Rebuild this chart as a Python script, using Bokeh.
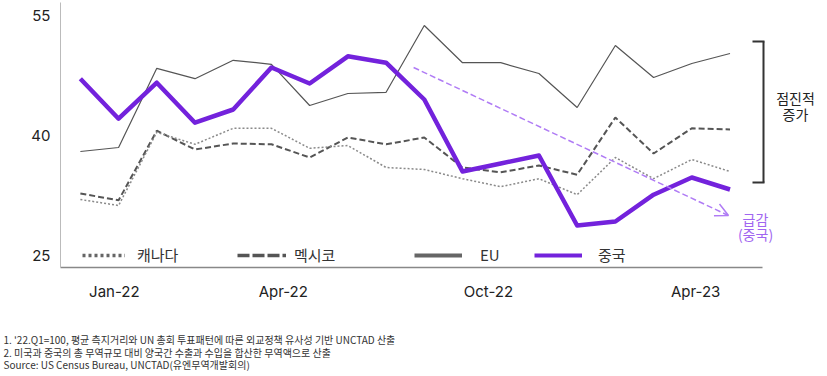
from bokeh.plotting import figure
from bokeh.models import (Range1d, FixedTicker, Legend, LegendItem, Label, Arrow, OpenHead)
from bokeh.embed import file_html
from bokeh.resources import INLINE

# ---- data ----
months = ["Jan-22", "Feb-22", "Mar-22", "Apr-22", "May-22", "Jun-22", "Jul-22", "Aug-22",
          "Sep-22", "Oct-22", "Nov-22", "Dec-22", "Jan-23", "Feb-23", "Mar-23", "Apr-23",
          "May-23", "Jun-23"]
canada = [32.0, 31.25, 40.4, 38.9, 40.9, 40.9, 38.4, 38.75, 36.0, 35.75, 34.6, 33.6,
          34.6, 32.6, 37.25, 34.6, 37.0, 35.5]
mexico = [32.75, 31.9, 40.6, 38.25, 39.0, 38.9, 37.25, 39.75, 38.9, 39.75, 36.0, 35.4,
          36.25, 35.1, 42.25, 37.75, 40.9, 40.75]
eu = [38.0, 38.5, 48.4, 47.1, 49.4, 48.9, 43.75, 45.25, 45.4, 53.75, 49.1, 49.1,
      47.75, 43.5, 51.25, 47.25, 49.0, 50.25]
china = [47.1, 42.1, 46.6, 41.6, 43.25, 48.5, 46.5, 49.9, 49.1, 44.5, 35.5, 36.5,
         37.5, 28.75, 29.25, 32.6, 34.75, 33.25]
series_names = ["캐나다", "멕시코", "EU", "중국"]
y_ticks = [25, 40, 55]
x_tick_labels = ["Jan-22", "Apr-22", "Oct-22", "Apr-23"]
x_tick_pos = [0.89, 5.31, 10.68, 16.1]
trend_start = (8.72, 48.5)
trend_end = (16.96, 30.0)
footnotes = [
    "1. '22.Q1=100, 평균 측지거리와 UN 총회 투표패턴에 따른 외교정책 유사성 기반 UNCTAD 산출",
    "2. 미국과 중국의 총 무역규모 대비 양국간 수출과 수입을 합산한 무역액으로 산출",
    "Source: US Census Bureau, UNCTAD(유엔무역개발회의)",
]

x = list(range(len(months)))
NAN = float("nan")

PURPLE = "#7322DC"
LIGHT_PURPLE = "#B07CF5"
KR = "Noto Sans CJK KR"

# plotted area (axes extent) and full canvas extent in data units
X0, X1 = -0.52, 17.85
Y0, Y1 = 23.5, 56.625

p = figure(width=827, height=376, output_backend="svg", toolbar_location=None,
           x_range=Range1d(-2.09, 19.551), y_range=Range1d(9.875, 56.875),
           min_border_left=0, min_border_right=0, min_border_top=0, min_border_bottom=0)
p.outline_line_color = None
p.grid.visible = False
p.background_fill_color = "white"
p.border_fill_color = "white"

# axes drawn at fixed locations inside the frame
p.yaxis.fixed_location = X0
p.yaxis.bounds = (Y0, Y1)
p.yaxis.ticker = FixedTicker(ticks=y_ticks)
p.yaxis.major_tick_out = 0
p.yaxis.major_tick_in = 0
p.yaxis.minor_tick_line_color = None
p.yaxis.axis_line_color = "#bbbbbb"
p.yaxis.axis_line_width = 1
p.yaxis.major_label_standoff = 10
p.yaxis.major_label_text_font = "Inter"
p.yaxis.major_label_text_font_size = "15px"
p.yaxis.major_label_text_color = "#222222"

p.xaxis.fixed_location = Y0
p.xaxis.bounds = (X0, X1)
p.xaxis.ticker = FixedTicker(ticks=x_tick_pos)
p.xaxis.major_label_overrides = {v: t for v, t in zip(x_tick_pos, x_tick_labels)}
p.xaxis.major_tick_out = 0
p.xaxis.major_tick_in = 0
p.xaxis.minor_tick_line_color = None
p.xaxis.axis_line_color = "#888888"
p.xaxis.axis_line_width = 1.6
p.xaxis.major_label_standoff = 14
p.xaxis.major_label_text_font = "Inter"
p.xaxis.major_label_text_font_size = "15px"
p.xaxis.major_label_text_color = "#222222"

# series
p.line(x, eu, line_color="#555555", line_width=1.2)
p.line(x, mexico, line_color="#555555", line_width=2, line_dash="6 3")
p.line(x, canada, line_color="#8a8a8a", line_width=1.5, line_dash="2 2")
p.line(x, china, line_color=PURPLE, line_width=4.5, line_join="round")

# trend arrow
p.add_layout(Arrow(x_start=trend_start[0], y_start=trend_start[1],
                   x_end=trend_end[0], y_end=trend_end[1],
                   line_color=LIGHT_PURPLE, line_width=1.5, line_dash="6 3",
                   end=OpenHead(size=13, line_color=LIGHT_PURPLE, line_width=1.5)))

# legend (placeholder renderers carrying the legend-sample styling)
leg_styles = [
    dict(line_color="#666666", line_width=3.5, line_dash="3 3"),
    dict(line_color="#555555", line_width=3.5, line_dash="12 3"),
    dict(line_color="#666666", line_width=4),
    dict(line_color=PURPLE, line_width=4),
]
leg_pos = [(82, 111, 43, 12), (237, 111, 49, 8), (414, 111, 48, 18), (534, 111, 48, 16)]
for name, st, (lx, ly, gw, so) in zip(series_names, leg_styles, leg_pos):
    r = p.line([NAN], [NAN], **st)
    lg = Legend(items=[LegendItem(label=name, renderers=[r])], location=(lx, ly),
                orientation="horizontal", padding=0, margin=0, spacing=0,
                glyph_width=gw, glyph_height=20, label_height=20, label_standoff=so,
                label_text_font=KR, label_text_font_size="15px",
                label_text_color="#333333", border_line_color=None,
                background_fill_alpha=0)
    p.add_layout(lg, "center")

# bracket (screen units, from bottom-left of canvas)
for xs, ys, xe, ye in [(763, 335, 763, 194), (752, 335, 764, 335), (752, 194, 764, 194)]:
    p.add_layout(Arrow(x_start=xs, y_start=ys, x_end=xe, y_end=ye,
                       start_units="screen", end_units="screen", end=None,
                       line_color="#333333", line_width=2))

for txt, lx, ly, col in [("점진적", 795, 279, "#222222"), ("증가", 795, 263, "#222222"),
                         ("급감", 755, 158, "#A066F0"), ("(중국)", 755, 143, "#A066F0")]:
    p.add_layout(Label(x=lx, y=ly, x_units="screen", y_units="screen", text=txt,
                       text_align="center", text_baseline="middle", text_font=KR,
                       text_font_size="14px", text_color=col))

# footnotes
for i, t in enumerate(footnotes):
    p.add_layout(Label(x=3, y=37 - 12.5 * i, x_units="screen", y_units="screen", text=t,
                       text_align="left", text_baseline="middle", text_font=KR,
                       text_font_size="10px", text_color="#333333"))

open("out.html", "w").write(file_html(p, INLINE))
